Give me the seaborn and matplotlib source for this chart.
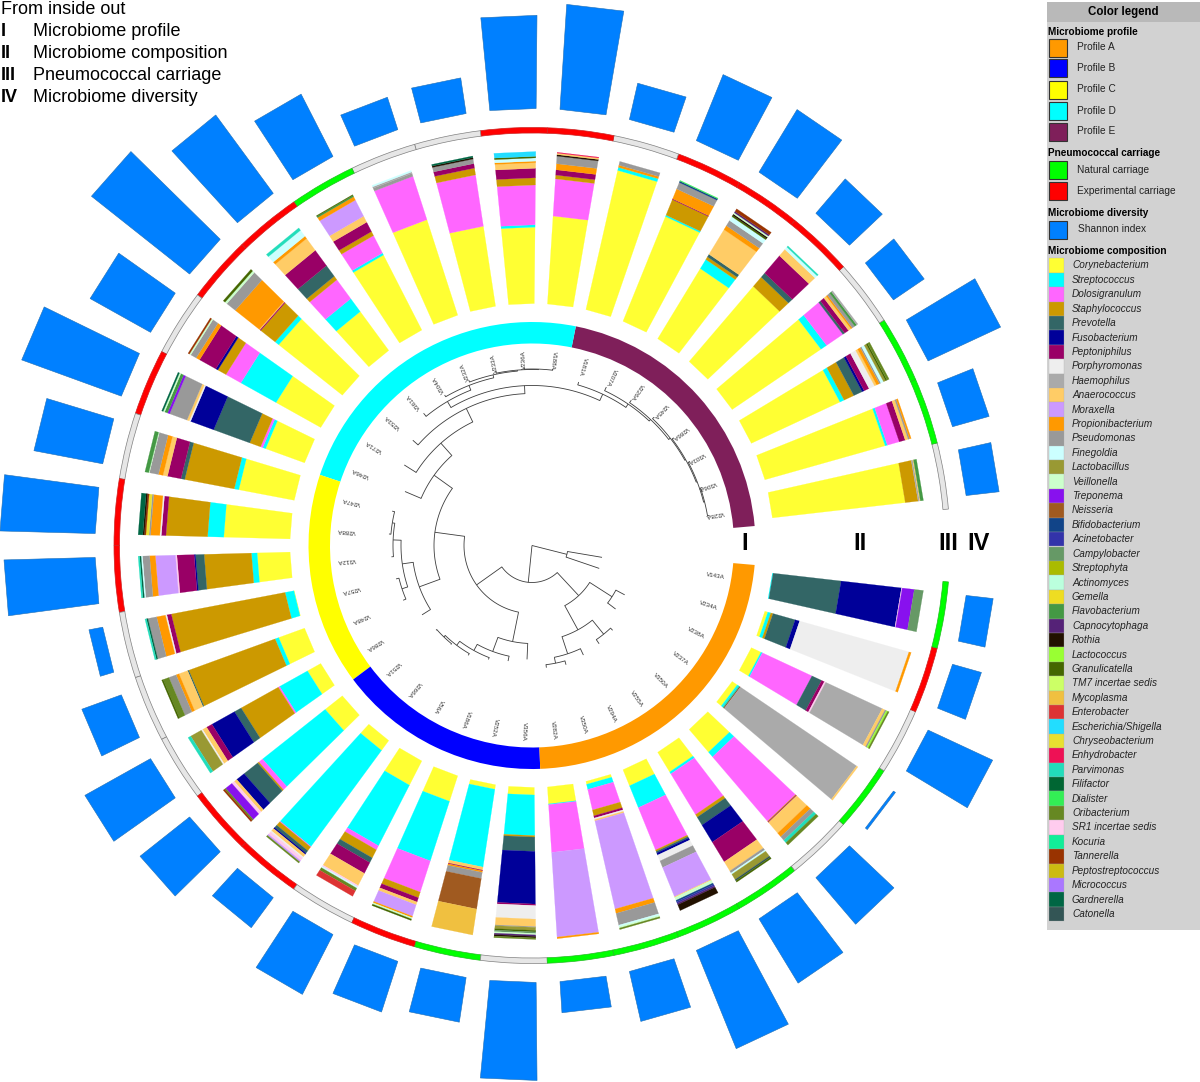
import numpy as np
import pandas as pd
import matplotlib.pyplot as plt
from matplotlib.patches import Rectangle
from matplotlib.path import Path
import seaborn as sns

# samples, going counter-clockwise from the gap on the right
samples = ["V228A", "V306A", "V303A", "V286A", "V245A", "V226A", "V207A", "V181A",
           "V188A", "V236A", "V233A", "V232A", "V304A", "V361A", "V253A", "V271A", "V246A",
           "V247A", "V288A", "V312A", "V257A", "V248A", "V286A",
           "V251A", "V266A", "V56A", "V186A", "V252A", "V356A",
           "V282A", "V350A", "V294A", "V255A", "V350A", "V237A", "V238A", "V234A", "V143A"]

profile_names = ["Profile A", "Profile B", "Profile C", "Profile D", "Profile E"]
profile_colors = ["#ff9900", "#0000ff", "#ffff00", "#00ffff", "#7f1f5a"]
profiles = ["E"] * 8 + ["D"] * 9 + ["C"] * 6 + ["B"] * 6 + ["A"] * 9

# G = no data, N = natural, X = experimental
carriage = list("GNNGXXXGXXGGNXXGXGXXGGGXXGXNGNNNNGNGXN")

shannon = [0.83, 0.95, 2.0, 0.93, 1.13, 1.83, 1.78, 0.93, 2.63, 2.33, 0.9, 0.85, 1.75,
           2.43, 3.13, 1.73, 2.65, 1.75, 2.38, 2.28, 0.35, 1.05, 1.88, 1.58, 0.93, 1.68,
           1.33, 1.13, 2.45, 0.78, 1.28, 2.65, 1.88, 1.53, 0.06, 1.78, 0.75, 0.68]

genus_codes = ["Co", "St", "Do", "Sa", "Pr", "Fu", "Pe", "Po", "Ha", "An", "Mo", "Pb", "Ps",
               "Fi", "La", "Ve", "Tr", "Ne", "Bi", "Ac", "Ca", "Sp", "Ay", "Ge", "Fl", "Cp",
               "Ro", "Lc", "Gr", "TM", "My", "En", "Es", "Ch", "Eh", "Pa", "Ff", "Di", "Or",
               "SR", "Ko", "Ta", "Pt", "Mi", "Ga", "Cn"]
genus_names = ["Corynebacterium", "Streptococcus", "Dolosigranulum", "Staphylococcus",
               "Prevotella", "Fusobacterium", "Peptoniphilus", "Porphyromonas", "Haemophilus",
               "Anaerococcus", "Moraxella", "Propionibacterium", "Pseudomonas", "Finegoldia",
               "Lactobacillus", "Veillonella", "Treponema", "Neisseria", "Bifidobacterium",
               "Acinetobacter", "Campylobacter", "Streptophyta", "Actinomyces", "Gemella",
               "Flavobacterium", "Capnocytophaga", "Rothia", "Lactococcus", "Granulicatella",
               "TM7 incertae sedis", "Mycoplasma", "Enterobacter", "Escherichia/Shigella",
               "Chryseobacterium", "Enhydrobacter", "Parvimonas", "Filifactor", "Dialister",
               "Oribacterium", "SR1 incertae sedis", "Kocuria", "Tannerella",
               "Peptostreptococcus", "Micrococcus", "Gardnerella", "Catonella"]
genus_colors = ["#ffff33", "#00ffff", "#ff66ff", "#cc9900", "#336666", "#000099", "#990066",
                "#eeeeee", "#aaaaaa", "#ffcc66", "#cc99ff", "#ff9900", "#999999", "#ccffff",
                "#999933", "#ccffcc", "#8811ee", "#a05a20", "#114488", "#3333aa", "#669966",
                "#aabb00", "#bbffdd", "#eedd22", "#449944", "#552277", "#221100", "#99ff33",
                "#446600", "#ccff66", "#f0c040", "#dd3333", "#22ddff", "#e8e030", "#ee1155",
                "#22ddbb", "#006633", "#33ee55", "#668822", "#ffccee", "#11ee99", "#993300",
                "#ccbb11", "#aa77ff", "#006644", "#335555"]

# relative abundance per sample, in stacking order from the inside out
comp_e = [
    dict(Co=88, Sa=8.5, Ha=1, An=.5, Fl=2),
    dict(Co=81, St=1.5, Do=8, Pe=4, An=2, Ps=1, Pb=1),
    dict(Co=64, St=3, Sa=7, Pr=6, Fu=1.5, Pe=3.5, Po=4, An=1.5, Pb=2, Ps=1, Fi=2, La=1.5, Gr=1, Or=1.5),
    dict(Co=71, St=4.5, Do=13, Pr=1.5, Pe=3, An=2, Pb=1, Ps=2, Fl=1.5, Ha=1),
    dict(Co=65, Sa=8, Pr=3.5, Pe=15, An=5.5, Fi=2, Pa=1),
    dict(Co=54, St=7, Sa=2, Pr=2, An=19, Pb=3, Ps=4, Fi=3, Gr=1, Ro=1, Ve=1, Cp=1, Ta=2),
    dict(Co=74, St=1, Sa=11, Pe=.5, Pb=7, Ps=4.5, Bi=1, Di=.5),
    dict(Co=93, St=2, Pb=1.5, Ps=2.5),
]
comp_d = [
    dict(Co=58, Do=24.5, Sa=2.5, Pe=3.5, Pb=4, Ps=5, Ro=1, An=1, Eh=.5),
    dict(Co=48, St=1.5, Do=25, Sa=4.5, Pe=6, An=3.5, Pb=1, Fi=2, Gr=1, Es=3),
    dict(Co=53, Do=34, Sa=4.5, Pe=3, Ps=3, Ro=1, Ga=1),
    dict(Co=66, Do=30, Ps=2, Ha=1, Fi=1),
    dict(Co=56, St=1.5, Do=13, Sa=3, Pe=7, An=4.5, Mo=12, Pb=2.5, Fl=1, Gr=.5),
    dict(Co=33, St=11, Do=16, Sa=3, Pr=9, Pe=13, An=10, Pb=2, Fi=5, Pa=2),
    dict(Co=53, St=3, Sa=12, Pe=.7, An=.5, Pb=20, Ps=7, Ve=1.5, Gr=1.5),
    dict(Co=33, St=26, Do=11, Sa=6, Fu=1.5, Pe=12, Pb=2.5, Ps=4, Ve=1, Ta=1),
    dict(Co=27, St=2, Do=1.5, Sa=7.5, Pr=25, Fu=16, Po=1, An=1.5, Ps=12, Tr=1.5, Fl=2, Ve=1, Ga=1),
]
comp_c = [
    dict(Co=37, St=3, Sa=33, Pr=2.5, Pe=9, An=3, Pb=3, Ps=6, Ve=.5, Fl=2.5),
    dict(Co=43, St=10.5, Sa=27, Pe=3, Po=1, Pb=6, Ps=1, Ch=2, Ta=1, Ro=1, Ga=3),
    dict(Co=23, St=4, Sa=33, Pr=6, Fu=1, Pe=12, SR=1, Mo=14, Pb=4, Ps=5, Fi=1, Ga=1, Pa=1),
    dict(Co=.3, St=6, Sa=78, Pe=3, Po=1, Pb=6, Ps=6, Ga=1, Pa=1),
    dict(Co=18, St=2.5, Sa=60, Pr=.8, An=6, Pb=2, Ps=5, Or=4, Gr=1),
    dict(Co=10, St=21, Do=1, Sa=28, Pr=5, Fu=17, Pe=4, An=3, Po=1, La=8, Pa=2),
]
comp_b = [
    dict(Co=14, St=51, Do=3, Sa=1, Pr=11, Fu=6, An=2, SR=2, Tr=5, Or=1, Ta=1),
    dict(Co=8, St=78, Do=.5, Sa=3, Pr=2, Fu=1, An=2, Po=1, SR=2, Mo=1, Or=1),
    dict(Co=18, St=45, Do=3, Sa=6, Pr=3.5, Pe=8, An=9, SR=1, Fi=1, Or=2, En=4),
    dict(Co=18, St=42, Do=22, Sa=4, Pe=3, An=2, Mo=8, Pb=1, Ve=1, Gr=1),
    dict(Co=3, St=51, An=2, Pe=.5, Pb=1, Ps=4, Ne=20, My=17),
    dict(Co=5, St=27, Sa=1, Pr=9.5, Fu=35, Pe=1, Po=9, An=5, Ps=.5, La=2, Gr=1, Ca=1, Ve=1, Cp=1, Ro=1, Or=1),
]
comp_a = [
    dict(Co=11, St=.5, Do=31, Mo=55, Pb=1),
    dict(Co=2, St=3.5, Do=14, Sa=4, Pe=1.5, Po=1, An=1, Mo=60, Pb=3, Ps=8, Fi=1, Ve=1, Or=1),
    dict(Co=11, St=15, Do=29, Sa=1, Pr=1, Fu=1.5, Po=4, Ps=4.5, Mo=20, An=.5, Ve=2, Bi=1, Ac=1, Cp=1, Ro=4),
    dict(Co=15, St=1.5, Do=31, Sa=2, Pr=6, Fu=13, Pe=15, An=7, Ps=1.5, Fi=1, La=4, Cn=1, Gr=1),
    dict(Co=19, St=4, Do=54, Sa=.5, Pe=.5, An=9, Pb=3, Ps=3, Pa=2, Or=2),
    dict(Co=4, St=1, Pa=1, Ta=.5, Ha=92, An=1),
    dict(Co=7, St=1, Do=36, Pr=7, Pe=2, SR=1, Ha=41, An=2, Ps=1, Lc=1, Or=1),
    dict(Co=2, St=2, Sa=1.5, Pr=15, Fu=3, Po=74, Pb=1.5),
    dict(St=.5, Pr=45, Fu=40, SR=.5, Tr=8, Ca=6),
]
composition = comp_e + comp_d + comp_c + comp_b + comp_a


# tree: (radius, [children]) for a node, (radius, sample index) for a tip
tree = (0, [
    (36, [(71, 37), (71, 36)]),
    (37, [
        (68, [
            (98, [
                (120.5, [
                    (138, 16),
                    (137, [
                        (151, 15),
                        (152, [
                            (159, 14),
                            (160, [
                                (167, [(171, 13), (172, [(174, 12), (175, [(177, 11), (176, [(178, 10), (176.5, [(178, 9), (178, 8)])])])])]),
                                (167, [(170, 7), (171, [(175, 6), (173, [(176, 5), (175, [(177, 4), (176, [(178, 3), (177, [(179, 2), (178, [(180, 1), (180, 0)])])])])])])]),
                            ]),
                        ]),
                    ]),
                ]),
                (120, [
                    (130, 22),
                    (131, [
                        (137, [(140, 21), (140, 20)]),
                        (139, [(141, 19), (141.5, [(143.5, 18), (144, 17)])]),
                    ]),
                ]),
            ]),
            (98, [
                (114, 28),
                (113, [(118, 27), (120, [(122, 26), (125, [(127, 25), (127, [(128, 24), (128, 23)])])])]),
            ]),
        ]),
        (68.5, [
            (96, [
                (114, [(121, 31), (120, [(123, 29), (124, 30)])]),
                (114, [(119, 32), (117, 33)]),
            ]),
            (95, [(105, 34), (105, 35)]),
        ]),
    ]),
])

sns.set_theme(style="white")
plt.rcParams["font.family"] = ["Liberation Sans", "DejaVu Sans"]

W, H = 1200, 1082
CX, CY = 532, 545.5
RMAX = 600

fig = plt.figure(figsize=(W / 100, H / 100), dpi=100, facecolor="white")
ax = fig.add_axes([(CX - RMAX) / W, (H - CY - RMAX) / H, 2 * RMAX / W, 2 * RMAX / H],
                  projection="polar")

n = len(samples)
step = np.deg2rad(350 / n)
theta = np.deg2rad(5) + (np.arange(n) + 0.5) * step
bar_w = np.deg2rad(6.1)

# polar bars get curved ends by default, the sample bars here have straight ones
unit = Path.unit_rectangle()
flat_rect = Path(unit.vertices, unit.codes, _interpolation_steps=1)


def flatten(bars):
    for patch in bars:
        patch.get_path = lambda: flat_rect


# I: profile ring, one bar per run of equal profile
profile_lut = dict(zip("ABCDE", profile_colors))
start = 0
for i in range(1, n + 1):
    if i == n or profiles[i] != profiles[start]:
        ax.bar(np.deg2rad(5) + (start + i) / 2 * step, 21.5, width=(i - start) * step, bottom=202,
               color=profile_lut[profiles[start]], linewidth=0)
        start = i

# II: stacked composition
colors = dict(zip(genus_codes, sns.color_palette(genus_colors)))
for th, comp in zip(theta, composition):
    total = sum(comp.values())
    bottom = 242
    for code, value in comp.items():
        h = value / total * 152
        flatten(ax.bar(th, h, width=bar_w, bottom=bottom, color=colors[code],
                       edgecolor=colors[code], linewidth=0.15))
        bottom += h

# III: carriage ring
carriage_lut = {"G": ("#e6e6e6", "#808080"), "N": ("#00ff00", "#22bb22"), "X": ("#ff0000", "#cc2222")}
for th, c in zip(theta, carriage):
    ax.bar(th, 5.5, width=step, bottom=412.5, color=carriage_lut[c][0],
           edgecolor=carriage_lut[c][1], linewidth=0.5)

# IV: Shannon index
df = pd.DataFrame({"theta": theta, "shannon": np.array(shannon) * 40})
sns.barplot(data=df, x="theta", y="shannon", native_scale=True, width=0.66, color="#0080ff",
            saturation=1, bottom=437, edgecolor="#1f6fb5", linewidth=0.4, ax=ax)
flatten(ax.containers[-1])


# tree + sample labels
def draw_tree(node, parent_r):
    r, kids = node
    if not isinstance(kids, list):
        th = theta[kids]
        ax.plot([th, th], [parent_r, r], color="#3c3c3c", lw=0.6, solid_capstyle="butt")
        return th
    angles = [draw_tree(kid, r) for kid in kids]
    lo, hi = min(angles), max(angles)
    arc = np.linspace(lo, hi, 40)
    ax.plot(arc, np.full(arc.size, r), color="#3c3c3c", lw=0.6)
    mid = (lo + hi) / 2
    ax.plot([mid, mid], [parent_r, r], color="#3c3c3c", lw=0.6, solid_capstyle="butt")
    return mid


root_r, root_kids = tree
for kid in root_kids:
    draw_tree(kid, root_r)

for th, name in zip(theta, samples):
    deg = np.rad2deg(th)
    ax.text(th, 186, name, fontsize=4.5, color="#333333", ha="center", va="center",
            rotation=deg + 180 if deg < 90 else deg, rotation_mode="anchor")

ax.set_ylim(0, RMAX)
ax.set_xlabel("")
ax.set_ylabel("")
ax.grid(False)
ax.set_axis_off()

# overlay in pixel coordinates for legend and notes
ov = fig.add_axes([0, 0, 1, 1], facecolor="none")
ov.set_xlim(0, W)
ov.set_ylim(H, 0)
ov.set_axis_off()

for x, label in zip([745, 860, 948, 979], ["I", "II", "III", "IV"]):
    ov.text(x, 544, label, fontsize=17, fontweight="bold", color="black", ha="center", va="center")

ov.text(1, 9.5, "From inside out", fontsize=13, color="black", va="center")
notes = ["Microbiome profile", "Microbiome composition", "Pneumococcal carriage", "Microbiome diversity"]
for y, num, note in zip([31, 53, 75, 97], ["I", "II", "III", "IV"], notes):
    ov.text(1, y, num, fontsize=13, fontweight="bold", color="black", va="center")
    ov.text(33, y, note, fontsize=13, color="black", va="center")

ov.add_patch(Rectangle((1047, 2), 153, 928, facecolor="#d2d2d2", edgecolor="none"))
ov.add_patch(Rectangle((1047, 2), 153, 20, facecolor="#b9b9b9", edgecolor="none"))
ov.text(1123, 12.5, "Color legend", fontsize=8.3, fontweight="bold", color="black", ha="center", va="center")


def group_title(y, label):
    ov.text(1048, y, label, fontsize=7.2, fontweight="bold", color="black", va="center")


def swatch_row(y, color, label, x_text=1077):
    ov.add_patch(Rectangle((1049, y - 9), 18, 18, facecolor=color, edgecolor="#333333", linewidth=0.8))
    ov.text(x_text, y, label, fontsize=7.3, color="#222222", va="center")


group_title(32, "Microbiome profile")
for y, color, label in zip([47.5, 68, 89.5, 110.5, 131.5], profile_colors, profile_names):
    swatch_row(y, color, label)

group_title(153, "Pneumococcal carriage")
swatch_row(170, "#00ff00", "Natural carriage")
swatch_row(191, "#ff0000", "Experimental carriage")

group_title(213, "Microbiome diversity")
swatch_row(229.5, "#0080ff", "Shannon index", x_text=1078)

group_title(251, "Microbiome composition")
for k, (name, code) in enumerate(zip(genus_names, genus_codes)):
    y = 265.5 + k * 14.41
    ov.add_patch(Rectangle((1049, y - 7.2), 15, 14.41, facecolor=colors[code], edgecolor="#aaaaaa", linewidth=0.2))
    ov.text(1072, y, name, fontsize=7.2, fontstyle="italic", color="#222222", va="center")

fig.savefig("out.png", dpi=100)
